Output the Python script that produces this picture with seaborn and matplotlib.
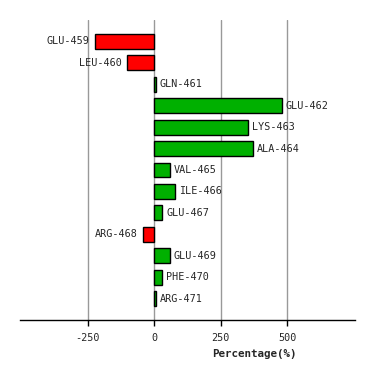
import matplotlib
matplotlib.use("Agg")
import matplotlib.pyplot as plt
import seaborn as sns
import pandas as pd

residues = ["GLU-459", "LEU-460", "GLN-461", "GLU-462", "LYS-463", "ALA-464", "VAL-465",
            "ILE-466", "GLU-467", "ARG-468", "GLU-469", "PHE-470", "ARG-471"]
values = [-222, -101, 5, 479, 351, 370, 58, 77, 30, -41, 58, 30, 5]
xticks = [-250, 0, 250, 500]

df = pd.DataFrame({"residue": residues, "value": values})
df["sign"] = ["neg" if v < 0 else "pos" for v in values]

sns.set_style("white")
plt.rcParams['font.family'] = ['DejaVu Sans Mono', 'DejaVu Sans']

fig = plt.figure(figsize=(3.74, 3.80), dpi=100)
ax = fig.add_axes([20/374, 60/380, 335/374, 300/380])

for t in xticks:
    ax.axvline(t, color="#999999", lw=1, zorder=0)

sns.barplot(data=df, x="value", y="residue", hue="sign", orient="h",
            palette={"neg": "#FF0000", "pos": "#00B000"}, dodge=False, saturation=1,
            width=0.7, edgecolor="black", linewidth=1, legend=False, ax=ax, zorder=2)

ax.set_xlim(-505, 755)
ax.set_ylim(13, -1)
ax.set_yticks([])
ax.set_ylabel("")
ax.set_xlabel("")
ax.set_xticks(xticks)
ax.set_xticklabels([str(t) for t in xticks], fontsize=7.3)
ax.tick_params(axis="x", length=4.5, width=1, color="black", pad=5, bottom=True)
for s in ["left", "top", "right"]:
    ax.spines[s].set_visible(False)
ax.spines["bottom"].set_color("black")
ax.spines["bottom"].set_linewidth(1)

for i, (r, v) in enumerate(zip(residues, values)):
    if v < 0:
        ax.annotate(r, (v, i), xytext=(-6, 0), textcoords="offset pixels",
                    ha="right", va="center", fontsize=7.3)
    else:
        ax.annotate(r, (v, i), xytext=(4, 0), textcoords="offset pixels",
                    ha="left", va="center", fontsize=7.3)

fig.text(254/374, 1 - 354/380, "Percentage(%)", ha="center", va="center",
         fontsize=7.8, fontweight="bold")

fig.savefig("out.png", dpi=100, facecolor="white")
